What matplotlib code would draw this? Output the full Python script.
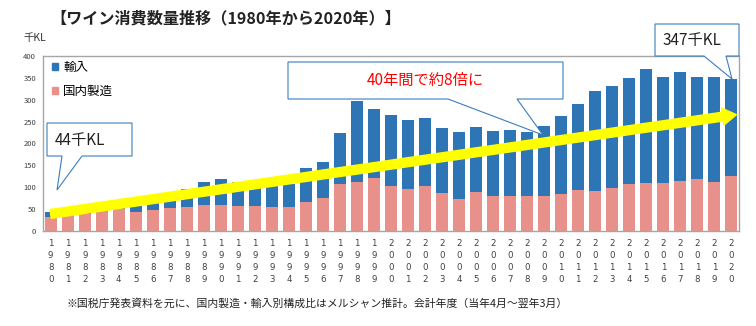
import matplotlib
matplotlib.use('Agg')
import matplotlib.pyplot as plt
from matplotlib.patches import Polygon, FancyArrowPatch, Patch

plt.rcParams['font.family'] = ['Noto Sans CJK JP', 'DejaVu Sans']

years = list(range(1980, 2021))
domestic = [33, 35, 40, 46, 50, 43, 48, 52, 56, 60,
            60, 58, 58, 55, 55, 66, 76, 108, 113, 122,
            104, 97, 102, 88, 74, 90, 80, 79, 79, 79,
            85, 94, 92, 99, 107, 110, 109, 115, 119, 112, 125]
total = [44, 53, 60, 65, 70, 58, 65, 70, 96, 113,
         118, 112, 105, 103, 107, 144, 158, 223, 297, 278,
         265, 253, 258, 236, 226, 238, 229, 230, 226, 240,
         262, 290, 320, 332, 350, 370, 352, 364, 353, 353, 347]
imports = [t - d for t, d in zip(total, domestic)]
xlabels = ['\n'.join(str(y)) for y in years]

title = '【ワイン消費数量推移（1980年から2020年）】'
note = '※国税庁発表資料を元に、国内製造・輸入別構成比はメルシャン推計。会計年度（当年4月～翌年3月）'

BLUE = '#2E75B6'
PINK = '#E8908A'
W, H = 756, 326

fig = plt.figure(figsize=(W / 100, H / 100), dpi=100)
ax = fig.add_axes([43 / W, 1 - 231 / H, (739 - 43) / W, (231 - 56) / H])

x = list(range(len(years)))
ax.bar(x, domestic, width=0.7, color=PINK, zorder=2)
ax.bar(x, imports, width=0.7, bottom=domestic, color=BLUE, zorder=2)

ax.set_xlim(-0.45, 40.45)
ax.set_ylim(0, 400)
ax.set_yticks(range(0, 401, 50))
ax.set_xticks(x)
ax.set_xticklabels(xlabels, fontsize=6.2, color='#404040', linespacing=1.4,
                   family=['DejaVu Sans'])
ax.tick_params(axis='x', length=0, pad=6)
ax.tick_params(axis='y', length=0, pad=5, labelsize=5.5, labelcolor='#404040')
for s in ax.spines.values():
    s.set_color('#A6A6A6')
    s.set_linewidth(1)

leg = ax.legend(handles=[Patch(color=BLUE, label='輸入'), Patch(color=PINK, label='国内製造')],
                loc='upper left', bbox_to_anchor=(0.0, 1.02), frameon=False,
                fontsize=9, handlelength=0.5, handleheight=0.5, handletextpad=0.4,
                labelspacing=0.85, borderaxespad=0.3)

# yellow trend arrow
arr = FancyArrowPatch((0.0, 39), (40.3, 266), transform=ax.transData,
                      arrowstyle='simple,head_width=0.62,head_length=0.5,tail_width=0.32',
                      mutation_scale=20, color='#FFFF00', zorder=4, clip_on=False,
                      shrinkA=0, shrinkB=0)
ax.add_patch(arr)


def px(xp, yp):
    return (xp / W, 1 - yp / H)


def callout(x0, y0, x1, y1, b1, b2, tip):
    pts = [px(x0, y0), px(x1, y0), px(x1, y1), px(b2, y1), px(*tip), px(b1, y1), px(x0, y1)]
    poly = Polygon(pts, closed=True, transform=fig.transFigure, facecolor='white',
                   edgecolor='#3A7EBF', linewidth=0.8, zorder=10)
    fig.patches.append(poly)


callout(47, 123, 132, 156, 62, 82, (57, 190))
callout(288, 62, 563, 99, 448, 517, (543, 135))
callout(655, 24, 739, 56, 704, 726, (732, 79))

fig.text(*px(55, 140), '44千KL', fontsize=11, ha='left', va='center', color='#222222', zorder=11)
fig.text(*px(425, 80), '40年間で約8倍に', fontsize=11, ha='center', va='center', color='#FF0000', zorder=11)
fig.text(*px(663, 41), '347千KL', fontsize=11, ha='left', va='center', color='#222222', zorder=11)

fig.text(*px(226, 18), title, fontsize=11.6, fontweight='bold', ha='center', va='center', color='#222222')
fig.text(*px(23, 38), '千KL', fontsize=7.5, ha='left', va='center', color='#333333')
fig.text(*px(317, 304), note, fontsize=7.8, ha='center', va='center', color='#222222')

fig.savefig('out.png', dpi=100)
